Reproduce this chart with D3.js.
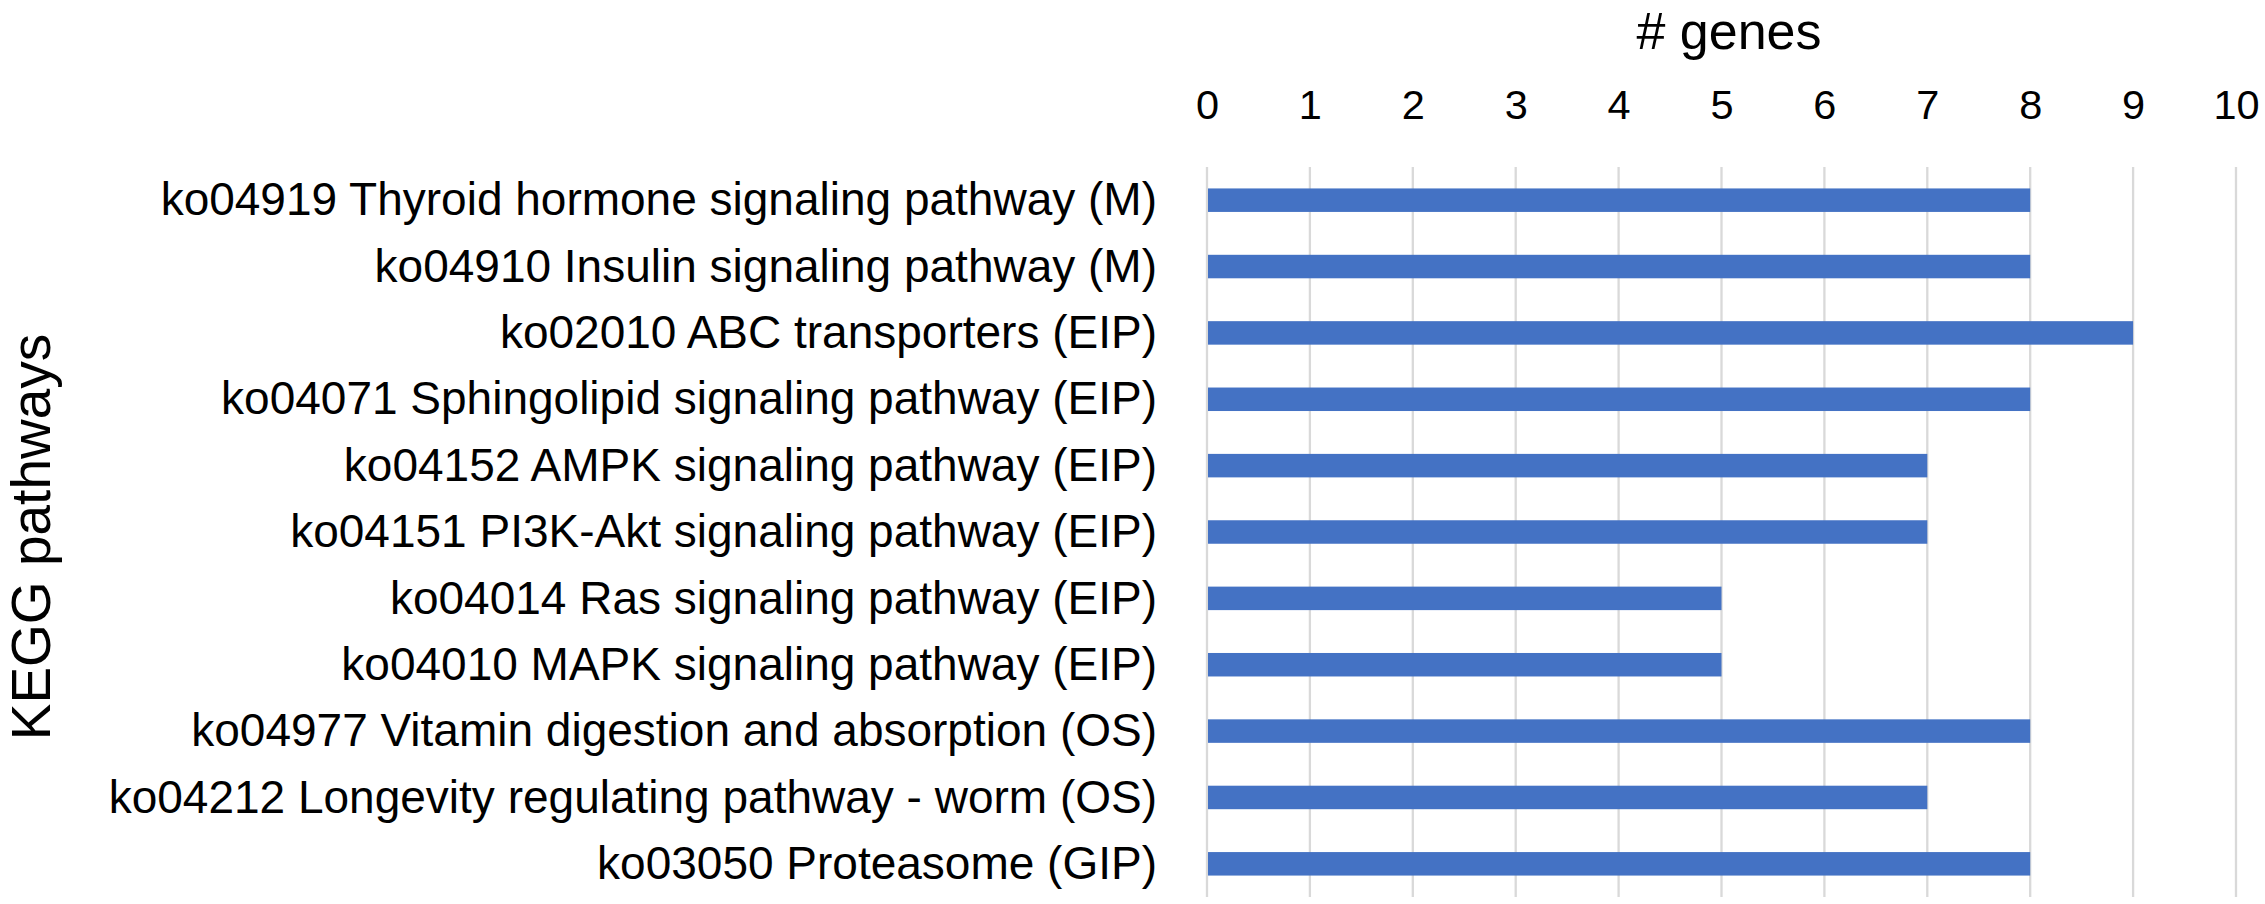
<!DOCTYPE html>
<html>
<head>
<meta charset="utf-8">
<script src="https://cdn.jsdelivr.net/npm/d3@7"></script>
<style>
  html, body { margin: 0; padding: 0; background: #fff; }
  svg { display: block; }
  text { font-family: "Liberation Sans", Arial, sans-serif; fill: #000; }
</style>
</head>
<body>
<svg id="chart" width="2265" height="904"></svg>
<script>
const categories = [
  "ko04919 Thyroid hormone signaling pathway (M)",
  "ko04910 Insulin signaling pathway (M)",
  "ko02010 ABC transporters (EIP)",
  "ko04071 Sphingolipid signaling pathway (EIP)",
  "ko04152 AMPK signaling pathway (EIP)",
  "ko04151 PI3K-Akt signaling pathway (EIP)",
  "ko04014 Ras signaling pathway (EIP)",
  "ko04010 MAPK signaling pathway (EIP)",
  "ko04977 Vitamin digestion and absorption (OS)",
  "ko04212 Longevity regulating pathway - worm (OS)",
  "ko03050 Proteasome (GIP)"
];
const geneCounts = [8, 8, 9, 8, 7, 7, 5, 5, 8, 7, 8];
const xTicks = [0, 1, 2, 3, 4, 5, 6, 7, 8, 9, 10];
const xTitle = "# genes";
const yTitle = "KEGG pathways";

const svg = d3.select("#chart");
const plot = { left: 1207, right: 2236, top: 167, bottom: 897 };

const x = d3.scaleLinear().domain([0, 10]).range([plot.left, plot.right]);
const gap = 0.646;
const y = d3.scaleBand().domain(categories).range([plot.top, plot.bottom])
  .paddingInner(gap).paddingOuter(gap / 2);

// gridlines
svg.append("g").selectAll("line").data(xTicks).join("line")
  .attr("x1", d => x(d)).attr("x2", d => x(d))
  .attr("y1", plot.top).attr("y2", plot.bottom)
  .attr("stroke", "#d9d9d9").attr("stroke-width", 2.3);

// top axis tick labels
const xAxis = d3.axisTop(x).tickValues(xTicks).tickSize(0).tickPadding(0).tickFormat(d3.format("d"));
const gx = svg.append("g").attr("transform", `translate(0,118.5)`).call(xAxis);
gx.select(".domain").remove();
gx.selectAll("text").attr("font-size", 41.5).attr("font-family", "Liberation Sans, Arial, sans-serif")
  .attr("fill", "#000").attr("dy", 0);

// bars
svg.append("g").selectAll("rect").data(categories).join("rect")
  .attr("x", x(0) + 1)
  .attr("y", d => y(d))
  .attr("width", (d, i) => x(geneCounts[i]) - x(0) - 1)
  .attr("height", y.bandwidth())
  .attr("fill", "#4472C4");

// category labels
const yAxis = d3.axisLeft(y).tickSize(0).tickPadding(0);
const gy = svg.append("g").attr("transform", `translate(1157,0)`).call(yAxis);
gy.select(".domain").remove();
gy.selectAll("text").attr("font-size", 46).attr("font-family", "Liberation Sans, Arial, sans-serif")
  .attr("fill", "#000").attr("dy", "0.33em").attr("x", 0);

// axis titles
svg.append("text").attr("x", 1729).attr("y", 49)
  .attr("text-anchor", "middle").attr("font-size", 52).text(xTitle);

svg.append("text")
  .attr("transform", `translate(50,537) rotate(-90)`)
  .attr("text-anchor", "middle").attr("font-size", 55).text(yTitle);
</script>
</body>
</html>
